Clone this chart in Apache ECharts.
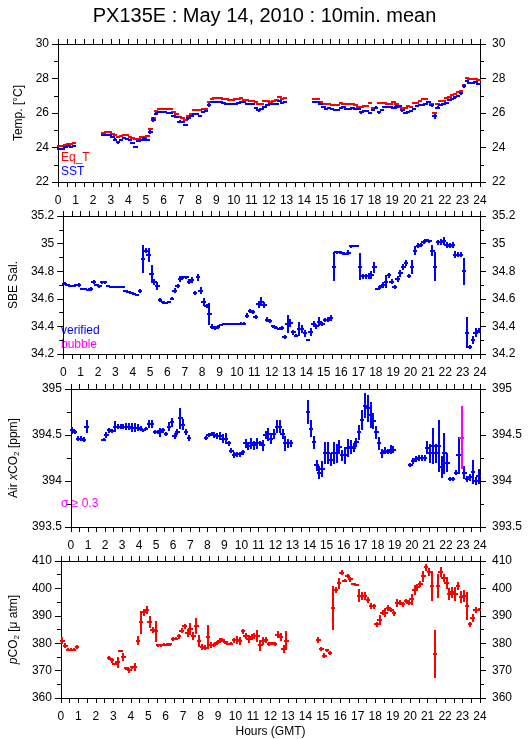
<!DOCTYPE html>
<html>
<head>
<meta charset="utf-8">
<script src="https://cdn.jsdelivr.net/npm/echarts@6/dist/echarts.min.js"></script>
<style>
html,body{margin:0;padding:0;background:#fff;}
#chart{width:529px;height:739px;}
</style>
</head>
<body>
<div id="chart"></div>
<script>
// ---- data: one value per 10-minute slot (144 slots, 00:00-24:00 GMT) ----
const N = null;
const hourTicks = [0,1,2,3,4,5,6,7,8,9,10,11,12,13,14,15,16,17,18,19,20,21,22,23,24];

const eqT = [
 24.07,24.07,24.15,24.22,24.22,24.25,
 N,N,N,N,N,N,
 N,N,N,24.86,24.90,24.90,
 24.80,24.70,24.62,24.65,24.72,24.70,
 24.62,24.55,24.50,24.50,24.58,24.62,
 24.65,25.05,25.70,26.12,26.22,26.25,
 26.25,26.25,26.22,26.05,25.95,25.75,
 25.70,25.62,25.85,25.95,26.18,26.20,
 26.20,26.22,26.25,26.65,26.80,26.85,
 26.88,26.85,26.82,26.80,26.75,26.75,
 26.80,26.82,26.88,26.75,26.75,26.72,
 26.68,26.62,26.50,26.55,26.72,26.70,
 26.65,26.72,26.75,26.95,26.82,26.85,
 N,N,N,N,N,N,
 N,N,N,26.82,26.82,26.65,
 26.55,26.55,26.50,26.45,26.45,26.45,
 26.58,26.50,26.50,26.55,26.50,26.45,
 26.35,26.35,26.38,26.40,26.58,26.30,
 26.30,26.58,26.58,26.58,26.55,26.50,
 26.65,26.55,26.35,26.30,26.30,26.42,
 26.35,26.58,26.60,26.70,26.82,26.82,
 26.65,26.55,26.00,26.55,26.70,26.70,
 26.85,26.95,27.05,27.10,27.20,27.30,
 27.60,28.02,27.98,27.95,27.95,27.90
];
const sst = [
 23.90,23.93,24.03,24.07,24.05,24.10,
 N,N,N,N,N,N,
 N,N,N,24.70,24.72,24.70,
 24.62,24.45,24.30,24.45,24.55,24.50,
 24.45,24.28,24.05,24.40,24.45,24.48,
 24.45,24.90,25.62,25.95,26.05,26.05,
 26.05,26.00,26.00,25.85,25.75,25.50,
 25.45,25.30,25.70,25.82,25.95,25.95,
 25.80,26.05,26.10,26.45,26.65,26.65,
 26.65,26.65,26.60,26.55,26.50,26.55,
 26.55,26.60,26.65,26.65,26.50,26.50,
 26.50,26.30,26.15,26.25,26.35,26.45,
 26.50,26.50,26.55,26.72,26.60,26.62,
 N,N,N,N,N,N,
 N,N,N,26.62,26.62,26.50,
 26.35,26.25,26.30,26.25,26.20,26.20,
 26.30,26.35,26.25,26.25,26.28,26.25,
 26.25,26.05,26.10,26.10,26.00,26.15,
 26.30,26.05,26.20,26.35,26.35,26.35,
 26.30,26.35,26.40,26.15,26.00,26.05,
 26.10,26.22,26.40,26.45,26.48,26.55,
 26.62,26.45,25.80,26.30,26.45,26.50,
 26.60,26.75,26.80,26.90,27.00,27.15,
 27.55,27.85,27.75,27.75,27.80,27.70
];
const sstSd = [
 .05,.04,.06,.05,.05,.06, 0,0,0,0,0,0, 0,0,0,.06,.05,.05,
 .05,.08,.07,.06,.05,.05, .05,.06,.06,.08,.06,.10, .05,.10,.17,.08,.06,.05,
 .04,.04,.05,.06,.06,.07, .05,.06,.08,.07,.06,.05, .06,.06,.07,.12,.06,.05,
 .04,.04,.04,.04,.05,.04, .04,.05,.05,.05,.06,.05, .05,.06,.07,.06,.05,.05,
 .05,.05,.05,.06,.05,.06, 0,0,0,0,0,0, 0,0,0,.06,.06,.06,
 .05,.05,.05,.05,.05,.05, .05,.06,.05,.05,.05,.05, .05,.08,.06,.06,.08,.06,
 .08,.08,.06,.05,.05,.05, .06,.10,.06,.07,.06,.05, .05,.06,.06,.05,.05,.05,
 .06,.08,.15,.08,.06,.05, .06,.06,.06,.06,.07,.08, .12,.08,.06,.05,.05,.05
];

const sal = [
 34.71,34.70,34.695,34.695,34.70,34.70,
 34.67,34.67,34.665,34.67,34.72,34.70,
 34.69,34.72,34.72,34.695,34.685,34.685,
 34.685,34.685,34.685,34.66,34.65,34.64,
 34.635,34.63,34.655,34.89,34.95,34.915,
 34.78,34.72,34.695,34.59,34.575,34.568,
 34.575,34.60,34.66,34.695,34.745,34.755,
 34.755,34.725,34.735,34.64,34.755,34.66,
 34.575,34.55,34.49,34.398,34.386,34.398,
 34.41,34.415,34.415,34.418,34.418,34.418,
 34.42,34.42,34.42,34.478,34.51,34.503,
 34.47,34.56,34.58,34.555,34.45,34.44,
 34.40,34.39,34.38,34.39,34.326,34.42,
 34.425,34.357,34.333,34.38,34.38,34.35,
 34.30,34.362,34.418,34.40,34.435,34.418,
 34.447,34.45,34.46,34.834,34.936,34.937,
 34.93,34.925,34.935,34.98,34.985,34.985,
 34.834,34.762,34.762,34.767,34.77,34.827,
 34.672,34.684,34.70,34.725,34.77,34.725,
 34.687,34.745,34.786,34.83,34.858,34.767,
 34.83,34.95,34.985,34.99,35.009,35.024,
 35.017,34.95,34.834,35.009,35.01,35.02,
 34.99,34.985,34.99,34.92,34.92,34.92,
 34.798,34.355,34.253,34.30,34.355,34.37
];
const salSd = [
 .012,.008,.008,.008,.008,.012, .005,.005,.008,.012,.015,.01,
 .01,.01,.01,.008,.005,.005, .005,.005,.01,.005,.005,.005,
 .005,.005,.015,.10,.02,.05, .065,.02,.03,.015,.01,.008,
 .008,.012,.015,.015,.02,.012, .01,.015,.02,.015,.025,.025,
 .03,.015,.08,.02,.015,.015, .01,.008,.005,.005,.005,.005,
 .005,.01,.01,.02,.015,.015, .015,.025,.03,.025,.02,.015,
 .01,.012,.008,.015,.015,.065, .03,.02,.01,.05,.03,.025,
 .008,.03,.02,.02,.03,.015, .012,.015,.02,.105,.012,.01,
 .01,.008,.02,.012,.008,.008, .10,.02,.015,.02,.03,.04,
 .008,.015,.025,.05,.02,.015, .015,.02,.025,.02,.02,.015,
 .05,.03,.02,.015,.015,.012, .01,.04,.105,.02,.02,.03,
 .02,.02,.025,.025,.02,.02, .10,.11,.015,.03,.03,.015
];

const airCO2 = [
 394.55,394.53,394.46,394.46,394.45,394.59,
 N,N,N,N,N,394.45,
 394.50,394.55,394.54,394.59,394.59,394.59,
 394.59,394.59,394.59,394.58,394.58,394.58,
 394.57,394.55,394.57,394.62,394.62,394.53,
 394.53,394.53,394.55,394.51,394.59,394.64,
 394.49,394.53,394.68,394.61,394.53,394.47,
 N,N,N,N,N,394.47,
 394.50,394.51,394.50,394.49,394.49,394.46,
 394.46,394.41,394.33,394.28,394.29,394.29,
 394.31,394.41,394.38,394.41,394.39,394.41,
 394.41,394.39,394.50,394.51,394.46,394.51,
 394.59,394.59,394.51,394.41,394.41,394.41,
 N,N,N,N,N,394.75,
 394.57,394.42,394.17,394.09,394.13,394.30,
 394.30,394.23,394.30,394.30,394.37,394.28,
 394.28,394.36,394.37,394.36,394.42,394.53,
 394.66,394.82,394.79,394.72,394.65,394.53,
 394.41,394.30,394.33,394.32,394.34,394.34,
 N,N,N,N,N,394.175,
 394.22,394.24,394.25,394.25,394.25,394.36,
 394.30,394.38,394.30,394.38,394.15,394.30,
 394.20,394.02,394.02,394.09,394.28,394.47,
 394.09,394.02,394.04,394.10,394.00,394.05
];
const airSd = [
 .04,.02,.03,.03,.03,.07, 0,0,0,0,0,.02,
 .03,.03,.02,.06,.03,.03, .03,.04,.04,.05,.05,.04,
 .03,.02,.02,.04,.04,.02, .02,.05,.03,.02,.05,.05,
 .03,.03,.11,.06,.03,.03, 0,0,0,0,0,.02,
 .02,.02,.03,.03,.04,.05, .06,.03,.03,.03,.03,.03,
 .03,.05,.04,.06,.05,.06, .03,.06,.04,.07,.06,.05,
 .07,.07,.05,.08,.05,.04, 0,0,0,0,0,.13,
 .09,.07,.06,.07,.09,.12, .12,.07,.12,.10,.08,.06,
 .09,.10,.08,.05,.05,.08, .11,.14,.15,.14,.09,.07,
 .07,.05,.04,.03,.05,.04, 0,0,0,0,0,.02,
 .03,.03,.03,.03,.03,.07, .10,.20,.10,.28,.12,.22,
 .10,.02,.02,.03,.20,.34, .07,.03,.04,.13,.04,.08
];

const pCO2 = [
 380.9,379.1,377.6,377.6,377.6,378.6,
 N,N,N,N,N,N,
 N,N,N,N,374.6,373.7,
 372.4,373.0,377.2,374.9,370.8,370.1,
 371.2,371.3,380.9,387.7,391.3,392.2,
 387.7,384.9,384.3,379.2,379.2,379.4,
 379.4,379.6,381.5,381.6,382.5,384.6,
 386.1,383.7,385.2,382.7,386.3,380.9,
 378.6,378.4,382.2,379.4,379.4,380.0,
 380.9,381.2,380.3,379.8,379.8,381.0,
 381.2,380.9,384.3,382.7,381.5,382.2,
 382.7,382.7,379.2,380.9,381.2,379.8,
 380.0,379.8,383.1,382.2,377.8,380.9,
 N,N,N,N,N,N,
 N,N,N,N,381.2,377.8,
 375.5,377.4,376.4,392.8,399.4,401.9,
 405.8,402.8,404.5,403.3,401.6,401.3,
 397.3,397.3,397.3,395.8,393.6,393.4,
 386.9,388.5,391.2,391.2,392.8,392.2,
 390.9,394.6,394.8,394.2,395.4,394.8,
 396.0,399.4,400.4,401.6,404.5,407.7,
 406.1,400.9,376.1,400.9,406.1,403.7,
 401.9,398.0,398.6,397.9,400.9,396.8,
 397.3,393.6,386.9,389.1,392.2,392.2
];
const pSd = [
 1.2,1.0,0.5,0.5,0.5,0.7, 0,0,0,0,0,0, 0,0,0,0,0.6,0.8,
 0.4,2.0,0.5,1.5,0.6,0.8, 0.6,1.5,1.7,4.2,1.2,1.5, 2.2,1.0,3.7,0.5,0.5,0.5,
 0.5,0.6,0.7,0.6,0.8,0.8, 0.8,1.5,2.1,1.5,2.8,2.2, 1.0,1.0,4.4,1.0,0.8,0.8,
 0.9,0.7,0.6,0.4,0.5,0.8, 1.5,1.5,0.8,1.2,1.5,1.0, 1.0,2.1,2.1,1.5,1.2,0.7,
 0.6,0.7,1.2,1.5,1.5,3.5, 0,0,0,0,0,0, 0,0,0,0,1.0,0.7,
 0.8,0.6,0.6,8.0,1.2,2.0, 0.8,0.5,0.8,0.8,0.5,0.4, 2.3,1.5,1.5,1.2,1.0,1.0,
 1.0,1.7,0.8,1.8,1.0,0.8, 1.0,1.5,1.0,1.0,0.9,1.0, 2.0,1.8,1.2,1.2,2.0,1.2,
 1.5,5.4,8.8,4.5,1.8,1.5, 2.2,2.2,2.0,2.5,1.5,2.3, 2.2,5.0,1.0,1.5,1.0,0.5
];

// ---- rendering ----
const RED = '#ff0000', BLUE = '#0000ff', MAG = '#ff00ff';
const FONT = '"Liberation Sans", Arial, Helvetica, sans-serif';
const TFONT = '"Liberation Sans Narrow", "Arial Narrow", "Liberation Sans", sans-serif';
const HALF = 0.13;   // half width of the 10-min dash, hours
const LW = 2;
const slotHour = i => (i + 0.5) / 6;

function toData(vals, sd) {
  const out = [];
  vals.forEach((v, i) => { if (v !== null) out.push([slotHour(i), v, sd ? sd[i] : 0]); });
  return out;
}
function marker(colorFn) {
  return function (params, api) {
    const x = api.value(0), y = api.value(1), s = api.value(2);
    const c = colorFn(s);
    const a = api.coord([x - HALF, y]), b = api.coord([x + HALF, y]);
    const yy = Math.round(a[1]);
    const kids = [{type: 'line', shape: {x1: Math.round(a[0]), y1: yy, x2: Math.round(b[0]), y2: yy},
                   style: {stroke: c, lineWidth: LW}}];
    if (s > 0) {
      const p = api.coord([x, y - s]), q = api.coord([x, y + s]);
      const xx = Math.round(api.coord([x, y])[0]);
      kids.push({type: 'line', shape: {x1: xx, y1: Math.round(p[1]), x2: xx, y2: Math.round(q[1])},
                 style: {stroke: c, lineWidth: LW}});
    }
    return {type: 'group', children: kids};
  };
}

const TOPS = [44, 216, 389, 561];
const H = 138;
const grids = TOPS.map(t => ({left: 58, width: 422, top: t, height: H}));

const black = {color: '#000', width: 1};
const xAxes = [], yAxes = [];
const yCfg = [
  {min: 22, max: 30, interval: 2, name: 'Temp. [°C]', gap: 28},
  {min: 34.2, max: 35.2, interval: 0.2, name: 'SBE Sal.', gap: 37},
  {min: 393.5, max: 395, interval: 0.5, name: 'Air {i|x}CO{s|2} [ppm]', gap: 42},
  {min: 360, max: 410, interval: 10, name: '{i|p}CO{s|2} [μ atm]', gap: 33}
];
const nameStyle = {
  color: '#000', fontSize: 12, fontFamily: FONT,
  rich: {
    i: {fontStyle: 'italic', fontSize: 12, fontFamily: FONT, color: '#000'},
    s: {fontSize: 8, fontFamily: FONT, color: '#000', verticalAlign: 'bottom', padding: [6, 0, 0, 0]}
  }
};
for (let g = 0; g < 4; g++) {
  ['bottom', 'top'].forEach(pos => {
    xAxes.push({
      gridIndex: g, type: 'value', position: pos, min: hourTicks[0], max: hourTicks[hourTicks.length - 1], interval: 1,
      axisLine: {show: true, onZero: false, lineStyle: black},
      axisTick: {show: true, inside: false, length: 5, lineStyle: black},
      minorTick: {show: true, splitNumber: 2, length: 5, lineStyle: black},
      splitLine: {show: false}, minorSplitLine: {show: false},
      axisLabel: {show: pos === 'bottom', color: '#000', fontSize: 12, fontFamily: TFONT, margin: 13},
      name: (g === 3 && pos === 'bottom') ? 'Hours (GMT)' : '',
      nameLocation: 'middle', nameGap: 28,
      nameTextStyle: {color: '#000', fontSize: 12, fontFamily: FONT}
    });
  });
  const c = yCfg[g];
  ['left', 'right'].forEach(pos => {
    yAxes.push({
      gridIndex: g, type: 'value', position: pos, min: c.min, max: c.max, interval: c.interval,
      axisLine: {show: true, onZero: false, lineStyle: black},
      axisTick: {show: true, inside: false, length: 6, lineStyle: black},
      minorTick: {show: true, splitNumber: 2, length: 4, lineStyle: black},
      splitLine: {show: false}, minorSplitLine: {show: false},
      axisLabel: {color: '#000', fontSize: 12, fontFamily: TFONT, margin: pos === 'left' ? 9 : 12},
      name: pos === 'left' ? c.name : '',
      nameLocation: 'middle', nameGap: c.gap, nameRotate: 90,
      nameTextStyle: nameStyle
    });
  });
}

const series = [
  {type: 'custom', name: 'Eq_T', xAxisIndex: 0, yAxisIndex: 0, renderItem: marker(() => RED),
   data: toData(eqT, null), encode: {x: 0, y: 1}},
  {type: 'custom', name: 'SST', xAxisIndex: 0, yAxisIndex: 0, renderItem: marker(() => BLUE),
   data: toData(sst, sstSd), encode: {x: 0, y: 1}},
  {type: 'custom', name: 'SBE Sal.', xAxisIndex: 2, yAxisIndex: 2, renderItem: marker(() => BLUE),
   data: toData(sal, salSd), encode: {x: 0, y: 1}},
  {type: 'custom', name: 'Air xCO2', xAxisIndex: 4, yAxisIndex: 4, renderItem: marker(s => s >= 0.3 ? MAG : BLUE),
   data: toData(airCO2, airSd), encode: {x: 0, y: 1}},
  {type: 'custom', name: 'pCO2', xAxisIndex: 6, yAxisIndex: 6, renderItem: marker(() => RED),
   data: toData(pCO2, pSd), encode: {x: 0, y: 1}}
];

const txt = (t, left, top, color) => ({type: 'text', left: left, top: top, silent: true,
  style: {text: t, fill: color, fontSize: 12, fontFamily: FONT}});

const chart = echarts.init(document.getElementById('chart'), null, {renderer: 'canvas'});
chart.setOption({
  animation: false,
  backgroundColor: '#fff',
  title: {text: 'PX135E : May 14, 2010 : 10min. mean', left: 'center', top: 1,
          textStyle: {fontSize: 20, fontWeight: 'normal', color: '#000', fontFamily: FONT}},
  grid: grids,
  xAxis: xAxes,
  yAxis: yAxes,
  series: series,
  graphic: [
    txt('Eq_T', 61, 152, RED),
    txt('SST', 61, 166, BLUE),
    txt('verified', 61, 325, BLUE),
    txt('bubble', 61, 339, MAG),
    txt('σ ≥ 0.3', 61, 498, MAG)
  ]
});
</script>
</body>
</html>
